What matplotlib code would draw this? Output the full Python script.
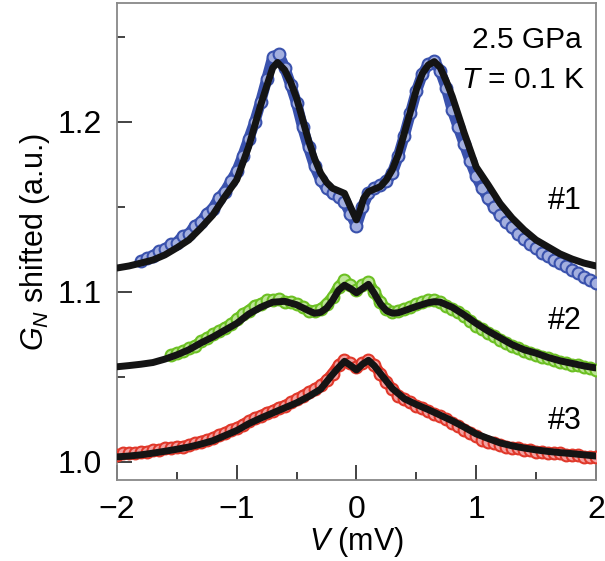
import numpy as np
import matplotlib
matplotlib.use("Agg")
import matplotlib.pyplot as plt
from matplotlib.ticker import MultipleLocator

plt.rcParams['font.family'] = ['Liberation Sans', 'DejaVu Sans']
plt.rcParams['mathtext.fontset'] = 'custom'
plt.rcParams['mathtext.rm'] = 'Liberation Sans'
plt.rcParams['mathtext.it'] = 'Liberation Sans:italic'

# measured data, sampled every 0.05 mV
v1 = np.linspace(-1.8, 2.0, 77)
g1 = [1.118, 1.120, 1.121, 1.124, 1.125, 1.128, 1.129, 1.133, 1.134, 1.139,
      1.141, 1.146, 1.149, 1.155, 1.159, 1.165, 1.171, 1.180, 1.190, 1.200,
      1.212, 1.225, 1.238, 1.240, 1.232, 1.222, 1.211, 1.197, 1.185, 1.174,
      1.166, 1.161, 1.158, 1.156, 1.153, 1.146, 1.139, 1.150, 1.158, 1.161,
      1.163, 1.165, 1.170, 1.180, 1.192, 1.205, 1.218, 1.228, 1.234, 1.236,
      1.230, 1.220, 1.207, 1.197, 1.187, 1.177, 1.168, 1.161, 1.155, 1.150,
      1.145, 1.141, 1.138, 1.134, 1.131, 1.128, 1.126, 1.123, 1.121, 1.119,
      1.117, 1.115, 1.113, 1.111, 1.109, 1.107, 1.105]

v2 = np.linspace(-1.55, 2.0, 72)
g2 = [1.063, 1.064, 1.065, 1.067, 1.068, 1.071, 1.073, 1.075, 1.077, 1.079,
      1.081, 1.084, 1.087, 1.089, 1.092, 1.093, 1.095, 1.095, 1.096, 1.094,
      1.094, 1.093, 1.091, 1.089, 1.089, 1.090, 1.093, 1.097, 1.103, 1.107,
      1.104, 1.101, 1.104, 1.106, 1.100, 1.094, 1.090, 1.088, 1.089, 1.090,
      1.091, 1.093, 1.094, 1.095, 1.095, 1.094, 1.092, 1.090, 1.088, 1.086,
      1.083, 1.080, 1.078, 1.076, 1.074, 1.072, 1.070, 1.068, 1.067, 1.065,
      1.064, 1.063, 1.062, 1.061, 1.060, 1.059, 1.058, 1.057, 1.057, 1.056,
      1.055, 1.054]

v3 = np.linspace(-2.0, 2.0, 81)
g3 = [1.004, 1.005, 1.005, 1.005, 1.006, 1.006, 1.007, 1.007, 1.008, 1.008,
      1.009, 1.009, 1.010, 1.011, 1.012, 1.013, 1.014, 1.016, 1.017, 1.019,
      1.020, 1.022, 1.024, 1.026, 1.027, 1.029, 1.030, 1.032, 1.033, 1.035,
      1.037, 1.039, 1.041, 1.043, 1.045, 1.048, 1.052, 1.057, 1.060, 1.058,
      1.056, 1.058, 1.060, 1.057, 1.052, 1.047, 1.043, 1.039, 1.037, 1.035,
      1.033, 1.032, 1.030, 1.028, 1.027, 1.025, 1.023, 1.021, 1.019, 1.017,
      1.015, 1.013, 1.012, 1.011, 1.010, 1.009, 1.008, 1.008, 1.007, 1.007,
      1.006, 1.006, 1.005, 1.005, 1.005, 1.004, 1.004, 1.004, 1.003, 1.003,
      1.003]

# fits
fit1_v = [-2.0, -1.9, -1.8, -1.7, -1.6, -1.5, -1.4, -1.3, -1.2, -1.1, -1.0,
          -0.9, -0.8, -0.75, -0.7, -0.66, -0.6, -0.55, -0.5, -0.45, -0.4,
          -0.35, -0.3, -0.25, -0.2, -0.15, -0.1, -0.05, 0.0, 0.03, 0.06,
          0.1, 0.15, 0.2, 0.25, 0.3, 0.35, 0.4, 0.45, 0.5, 0.55, 0.6, 0.65,
          0.7, 0.75, 0.8, 0.9, 1.0, 1.1, 1.2, 1.3, 1.4, 1.5, 1.6, 1.7, 1.8,
          1.9, 2.0]
fit1_g = [1.1141, 1.1153, 1.117, 1.1188, 1.1218, 1.126, 1.1306, 1.1376,
          1.1453, 1.156, 1.166, 1.1855, 1.210, 1.221, 1.2318, 1.235, 1.2306,
          1.2235, 1.214, 1.2015, 1.189, 1.1785, 1.170, 1.1645, 1.161, 1.1595,
          1.158, 1.150, 1.1424, 1.148, 1.155, 1.159, 1.1605, 1.162, 1.166,
          1.172, 1.181, 1.1935, 1.206, 1.219, 1.2285, 1.2335, 1.2355, 1.232,
          1.224, 1.215, 1.1935, 1.1735, 1.163, 1.152, 1.1435, 1.1365, 1.1306,
          1.1265, 1.1224, 1.1194, 1.117, 1.1153]

fit2_v = [-2.0, -1.9, -1.8, -1.7, -1.6, -1.5, -1.4, -1.3, -1.2, -1.1, -1.0,
          -0.9, -0.8, -0.7, -0.6, -0.5, -0.4, -0.35, -0.3, -0.25, -0.2,
          -0.15, -0.1, -0.05, 0.0, 0.05, 0.1, 0.15, 0.2, 0.25, 0.3, 0.35,
          0.4, 0.5, 0.6, 0.65, 0.7, 0.8, 0.9, 1.0, 1.1, 1.2, 1.3, 1.4, 1.5,
          1.6, 1.7, 1.8, 1.9, 2.0]
fit2_g = [1.056, 1.0567, 1.0575, 1.0585, 1.0605, 1.063, 1.066, 1.070,
          1.0735, 1.0775, 1.0815, 1.087, 1.091, 1.094, 1.0945, 1.0925, 1.089,
          1.0875, 1.088, 1.0905, 1.095, 1.101, 1.104, 1.102, 1.0995, 1.102,
          1.1045, 1.099, 1.093, 1.089, 1.0875, 1.0878, 1.089, 1.0915, 1.0937,
          1.0943, 1.094, 1.091, 1.0865, 1.0815, 1.077, 1.073, 1.069, 1.066,
          1.064, 1.0615, 1.0595, 1.058, 1.0565, 1.0553]

fit3_v = [-2.0, -1.9, -1.8, -1.7, -1.6, -1.5, -1.4, -1.3, -1.2, -1.1, -1.0,
          -0.9, -0.8, -0.7, -0.6, -0.5, -0.4, -0.3, -0.2, -0.15, -0.1, -0.05,
          0.0, 0.05, 0.1, 0.15, 0.2, 0.3, 0.4, 0.5, 0.6, 0.7, 0.8, 0.9, 1.0,
          1.1, 1.2, 1.3, 1.4, 1.5, 1.6, 1.7, 1.8, 1.9, 2.0]
fit3_g = [1.003, 1.0035, 1.0042, 1.0052, 1.0063, 1.0075, 1.0088, 1.0105,
          1.0125, 1.0155, 1.0185, 1.0225, 1.0258, 1.0288, 1.0318, 1.0348,
          1.0385, 1.0428, 1.0515, 1.0555, 1.0592, 1.0568, 1.0541, 1.0575,
          1.0598, 1.0565, 1.052, 1.0432, 1.0372, 1.0338, 1.0308, 1.0275,
          1.0242, 1.0205, 1.0165, 1.0138, 1.0112, 1.0095, 1.0082, 1.0071,
          1.0062, 1.0055, 1.0049, 1.0042, 1.0035]

labels = ['#1', '#2', '#3']
label_y = [1.1535, 1.083, 1.024]

fig = plt.figure(figsize=(6.05, 5.61), dpi=100)
ax = fig.add_axes([0.1934, 0.1444, 0.7916, 0.8503])

series = [(v1, g1, '#3a52ad', '#a3afdf'),
          (v2, g2, '#6cc023', '#bde597'),
          (v3, g3, '#e0382a', '#f4a0a0')]
for v, g, c, light in series:
    ax.plot(v, g, '-', color=c, lw=8, solid_capstyle='round', zorder=2)
    ax.plot(v, g, 'o', ms=8.5, mfc=light, mec=c, mew=1.5, zorder=3)

for fv, fg in [(fit1_v, fit1_g), (fit2_v, fit2_g), (fit3_v, fit3_g)]:
    ax.plot(fv, fg, '-', color='#141414', lw=5, solid_capstyle='round',
            solid_joinstyle='round', zorder=4)

for lab, ly in zip(labels, label_y):
    ax.text(1.88, ly, lab, fontsize=22, ha='right', va='center', zorder=5)

ax.text(1.885, 1.2485, '2.5 GPa', fontsize=21.5, ha='right', va='center')
ax.text(1.905, 1.2245, r'$T$ = 0.1 K', fontsize=21.5, ha='right', va='center')

ax.set_xlim(-2, 2)
ax.set_ylim(0.9894, 1.27)
ax.xaxis.set_major_locator(MultipleLocator(1))
ax.xaxis.set_minor_locator(MultipleLocator(0.5))
ax.yaxis.set_major_locator(MultipleLocator(0.1))
ax.yaxis.set_minor_locator(MultipleLocator(0.05))
ax.yaxis.set_major_formatter(plt.FormatStrFormatter('%.1f'))
ax.tick_params(which='both', direction='in', color='#222222', width=1.2,
               labelsize=23, top=False, right=False)
ax.tick_params(which='major', length=11, pad=11)
ax.tick_params(which='minor', length=6)
for s in ax.spines.values():
    s.set_color('#888888')
    s.set_linewidth(1.3)

ax.set_xlabel(r'$V$ (mV)', fontsize=22, labelpad=0)
ax.set_ylabel(r'$G_N$ shifted (a.u.)', fontsize=22, labelpad=4)

fig.savefig('out.png', dpi=100)
